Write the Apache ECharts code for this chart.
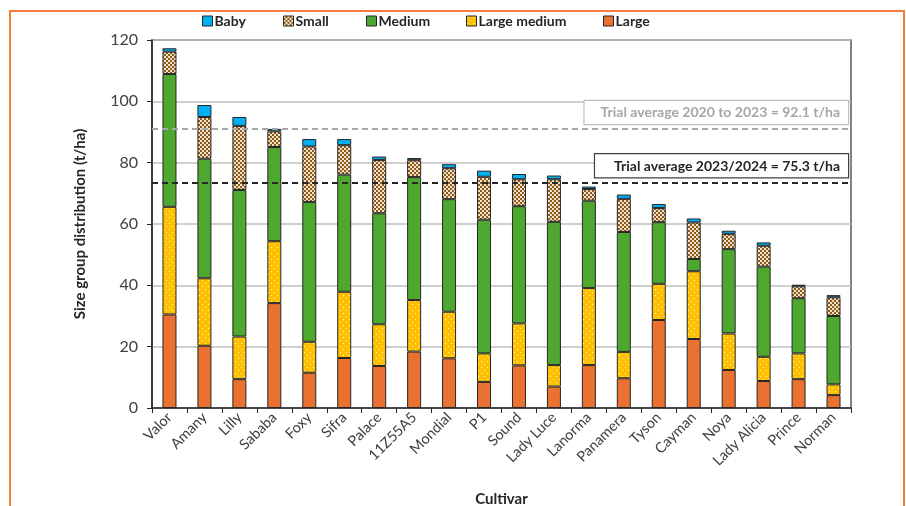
<!DOCTYPE html>
<html><head><meta charset="utf-8">
<script src="https://cdn.jsdelivr.net/npm/echarts@6/dist/echarts.min.js"></script>
<style>html,body{margin:0;padding:0;background:#fff}#c{width:906px;height:506px}</style>
</head><body><div id="c"></div>
<script>
const cultivars = ["Valor","Amany","Lilly","Sababa","Foxy","Sifra","Palace","11Z55A5","Mondial","P1","Sound","Lady Luce","Lanorma","Panamera","Tyson","Cayman","Noya","Lady Alicia","Prince","Norman"];
const large       = [30.5,20.3,9.4,34.2,11.5,16.3,13.7,18.4,16.2,8.5,13.9,7.0,14.0,9.7,28.7,22.5,12.4,8.8,9.4,4.2];
const largeMedium = [35.1,22.0,13.9,20.2,10.1,21.6,13.6,16.8,15.2,9.3,13.7,7.0,25.1,8.6,11.8,22.1,11.9,7.9,8.4,3.5];
const medium      = [43.3,39.0,47.8,30.7,45.6,38.2,36.2,40.1,36.7,43.6,38.2,46.7,28.5,39.1,20.1,4.0,27.5,29.4,18.0,22.3];
const small       = [7.3,13.6,20.9,5.1,18.1,9.6,17.4,5.5,10.1,14.0,8.8,13.9,3.8,10.8,4.6,11.9,5.0,6.8,3.9,6.1];
const baby        = [1.1,3.9,2.9,0.8,2.4,2.0,1.1,0.7,1.3,2.0,1.7,1.2,0.8,1.4,1.3,1.3,1.0,1.1,0.5,0.7];
const yTicks = [0,20,40,60,80,100,120];
const legendNames = ['Baby','Small','Medium','Large medium','Large'];
const avgAll = 91.0, avgAllLabel = "Trial average 2020 to 2023 = 92.1 t/ha";
const avgYear = 73.6, avgYearLabel = "Trial average 2023/2024 = 75.3 t/ha";

function pattern(w,h,bg,fg,cells){
  const c=document.createElement('canvas');c.width=w;c.height=h;
  const x=c.getContext('2d');x.fillStyle=bg;x.fillRect(0,0,w,h);x.fillStyle=fg;
  cells.forEach(r=>x.fillRect(r[0],r[1],r[2],r[3]));
  return {image:c,repeat:'repeat'};
}
const smallPat = pattern(4,4,'#8e5a1c','#f2e2cc',[[0,0,2,2],[2,2,2,2]]);
const lmPat = pattern(6,6,'#ffc000','#fff6d0',[[1,1,1,1],[4,4,1,1]]);

const FONT = 'Lato';
const border = {borderColor:'#262626',borderWidth:1};
function ser(name,data,color,extra){
  return Object.assign({name,type:'bar',stack:'t',data,barWidth:14,
    itemStyle:Object.assign({color},border),emphasis:{disabled:true}},extra||{});
}
const legendLeft = [202,283,366,466,603];
const legends = legendNames.map((n,i)=>({data:[n],left:legendLeft[i],top:14,padding:0,itemWidth:10,itemHeight:10,icon:'rect',
    textStyle:{fontFamily:FONT,fontWeight:'bold',fontSize:14,color:'#262626',padding:[0,0,0,-3]},
    itemStyle:{borderColor:'#262626',borderWidth:1}}));
const chart = echarts.init(document.getElementById('c'),null,{renderer:'canvas'});
chart.setOption({
  animation:false,
  textStyle:{fontFamily:FONT},
  graphic:[{type:'rect',shape:{x:10,y:11,width:894,height:520},style:{fill:null,stroke:'#f47c3c',lineWidth:2},z:-1}],
  legend:legends,
  grid:{left:152,right:55,top:40,bottom:98,show:true,borderColor:'#595959',borderWidth:1.5,outerBoundsMode:'none',containLabel:false},
  xAxis:{type:'category',data:cultivars,name:'Cultivar',nameLocation:'middle',nameGap:84,
    nameTextStyle:{fontFamily:FONT,fontWeight:'bold',fontSize:15,color:'#262626'},
    axisLine:{lineStyle:{color:'#262626',width:1.5}},
    axisTick:{show:true,length:5,lineStyle:{color:'#262626'}},
    axisLabel:{rotate:45,fontSize:14.5,color:'#404040',margin:7,fontFamily:FONT,interval:0}},
  yAxis:{type:'value',min:yTicks[0],max:yTicks[yTicks.length-1],interval:20,
    name:'Size group distribution (t/ha)',nameLocation:'middle',nameGap:64,
    nameTextStyle:{fontFamily:FONT,fontWeight:'bold',fontSize:15,color:'#262626'},
    axisLine:{show:true,lineStyle:{color:'#262626',width:1.5}},
    axisTick:{show:true,length:5,lineStyle:{color:'#262626'}},
    axisLabel:{fontSize:16,color:'#404040',margin:14,fontFamily:FONT},
    splitLine:{lineStyle:{color:'#bfbfbf',width:1.5}}},
  series:[
    ser('Large',large,'#e97132'),
    ser('Large medium',largeMedium,lmPat),
    ser('Medium',medium,'#4ea72e'),
    ser('Small',small,smallPat),
    ser('Baby',baby,'#00b0f0',{markLine:{silent:true,symbol:'none',z:10,
      data:[
        {yAxis:avgAll,lineStyle:{color:'#a6a6a6',type:[6,4],width:2},
          label:{show:true,position:'insideEndTop',distance:[3,5],formatter:avgAllLabel,fontFamily:FONT,fontWeight:'bold',fontSize:14,color:'#a6a6a6',
            backgroundColor:'#fff',borderColor:'#bfbfbf',borderWidth:1.2,padding:[5,8,4,16]}},
        {yAxis:avgYear,lineStyle:{color:'#262626',type:[6,4],width:2},
          label:{show:true,position:'insideEndTop',distance:[3,5],formatter:avgYearLabel,fontFamily:FONT,fontWeight:'bold',fontSize:14,color:'#262626',
            backgroundColor:'#fff',borderColor:'#404040',borderWidth:1.2,padding:[5,8,4,19]}}
      ]}})
  ]
});
</script></body></html>
